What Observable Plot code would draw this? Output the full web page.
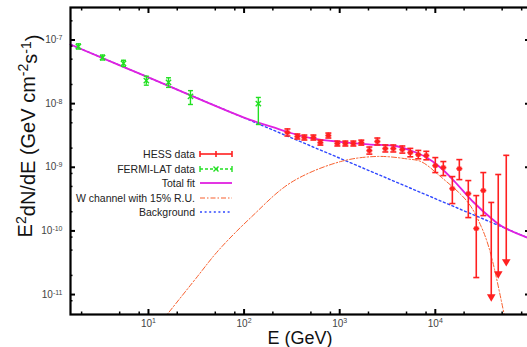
<!DOCTYPE html>
<html><head><meta charset="utf-8">
<script src="https://cdn.jsdelivr.net/npm/d3@7"></script>
<script src="https://cdn.jsdelivr.net/npm/@observablehq/plot@0.6"></script>
<style>
html,body{margin:0;padding:0;background:#fff;}
#chart svg{display:block;font-family:"Liberation Sans",Arial,Helvetica,sans-serif;}
</style></head><body><div id="chart"></div>
<script>
// ---- HESS data (E in GeV, E^2 dN/dE in GeV cm^-2 s^-1)
const hessE  = [284,361,427,531,628,761,945,1146,1389,1683,2042,2476,3000,3637,4518,5474,6637,8051,10000,12130,15070,17830,22130,26810,31750];
const hessF  = [3.52e-9,3.04e-9,2.93e-9,2.93e-9,2.44e-9,3.15e-9,2.36e-9,2.36e-9,2.36e-9,2.44e-9,1.83e-9,2.54e-9,1.97e-9,1.97e-9,1.90e-9,1.70e-9,1.58e-9,1.53e-9,1.06e-9,9.9e-10,4.62e-10,9.5e-10,3.86e-10,1.09e-10,4.31e-10];
const hessLo = [3.10e-9,2.78e-9,2.68e-9,2.68e-9,2.23e-9,2.88e-9,2.16e-9,2.16e-9,2.16e-9,2.23e-9,1.61e-9,2.24e-9,1.74e-9,1.74e-9,1.67e-9,1.46e-9,1.36e-9,1.31e-9,8.26e-10,7.4e-10,2.69e-10,6.4e-10,1.62e-10,1.85e-11,1.74e-10];
const hessHi = [4.00e-9,3.33e-9,3.21e-9,3.21e-9,2.67e-9,3.45e-9,2.58e-9,2.58e-9,2.58e-9,2.67e-9,2.08e-9,2.88e-9,2.24e-9,2.24e-9,2.16e-9,1.98e-9,1.84e-9,1.78e-9,1.42e-9,1.23e-9,7.14e-10,1.32e-9,6.18e-10,3.59e-10,8.26e-10];
// HESS upper limits
const ulE   = [38460,45500,55200];
const ulF   = [2.80e-10,7.7e-10,1.54e-9];
const ulTip = [8.6e-12,1.98e-11,3.06e-11];
// ---- FERMI-LAT data
const fermiE  = [1.85,3.31,5.48,9.5,16.2,27.5,141];
const fermiF  = [7.9e-8,5.3e-8,4.3e-8,2.3e-8,2.15e-8,1.3e-8,1.0e-8];
const fermiLo = [7.2e-8,4.85e-8,3.85e-8,1.95e-8,1.8e-8,9.7e-9,4.7e-9];
const fermiHi = [8.7e-8,5.8e-8,4.8e-8,2.7e-8,2.55e-8,1.6e-8,1.25e-8];
// ---- Curves
const bgE = [1.53,10,100,1000,10000,96600];
const bgF = [8.5e-8,2.58e-8,5.98e-9,1.39e-9,3.21e-10,7.6e-11];
const totE = [1.53,10,100,200,288,501,1000,1995,3981,5623,7943,11220,15850,25120,39810,50120,96600];
const totF = [8.5e-8,2.58e-8,6.03e-9,4.27e-9,3.55e-9,2.88e-9,2.51e-9,2.29e-9,2.14e-9,1.82e-9,1.45e-9,1.0e-9,6.03e-10,2.82e-10,1.51e-10,1.17e-10,7.62e-11];
const wE = [14.1,31.6,53.7,117.5,309,1023,2512,5129,7079,11220,21880,30200,37150,52480,57540];
const wF = [3.98e-12,1.82e-11,4.9e-11,1.62e-10,5.75e-10,1.23e-9,1.48e-9,1.35e-9,1.23e-9,7.24e-10,2.82e-10,1.17e-10,4.9e-11,4.9e-12,2.5e-12];
// ---- Ticks
const xMajor = [10,100,1000,10000];
const xMinor = [2,5,8,20,50,80,200,500,800,2000,5000,8000,20000,50000,80000];
const yMajor = [1e-11,1e-10,1e-9,1e-8,1e-7];
const yMinor = [8e-12,2e-11,5e-11,8e-11,2e-10,5e-10,8e-10,2e-9,5e-9,8e-9,2e-8,5e-8,8e-8,2e-7];
const legendLabels = ["HESS data","FERMI-LAT data","Total fit","W channel with 15% R.U.","Background"];

const RED="#ff2020", GREEN="#22e022", MAGENTA="#e020e0", ORANGE="#f8602e", BLUE="#3048ff";

const hess = hessE.map((E,i)=>({E, F:hessF[i], lo:hessLo[i], hi:hessHi[i]}));
const ul = ulE.map((E,i)=>({E, F:ulF[i], tip:ulTip[i]}));
const fermi = fermiE.map((E,i)=>({E, F:fermiF[i], lo:fermiLo[i], hi:fermiHi[i]}));
const bg = bgE.map((E,i)=>({E, F:bgF[i]}));
const tot = totE.map((E,i)=>({E, F:totF[i]}));
const wch = wE.map((E,i)=>({E, F:wF[i]}));

const cap = {draw(ctx, size){ const r = Math.sqrt(size/Math.PI); ctx.moveTo(-r,0); ctx.lineTo(r,0); }};
const fmt = d => "10^" + Math.round(Math.log10(d));

const plot = Plot.plot({
  width: 527, height: 347,
  marginLeft: 70, marginRight: -2, marginTop: 7, marginBottom: 33,
  x: {type:"log", domain:[1.53, 96600], label:null},
  y: {type:"log", domain:[4.86e-12, 3.24e-7], label:null},
  style: {fontFamily:'"Liberation Sans",Arial,sans-serif', background:"#fff"},
  marks: [
    Plot.line(bg, {x:"E", y:"F", stroke:BLUE, strokeWidth:1.4, strokeDasharray:"2,2.6"}),
    Plot.line(wch, {x:"E", y:"F", stroke:ORANGE, strokeWidth:1, strokeDasharray:"5,2,1.5,2", curve:"catmull-rom", clip:true}),
    Plot.line(tot, {x:"E", y:"F", stroke:MAGENTA, strokeWidth:1.8, curve:"catmull-rom"}),
    // FERMI
    Plot.ruleX(fermi, {x:"E", y1:"lo", y2:"hi", stroke:GREEN, strokeWidth:1.4}),
    Plot.dot(fermi, {x:"E", y:"lo", symbol:cap, r:2.5, stroke:GREEN, strokeWidth:1.4}),
    Plot.dot(fermi, {x:"E", y:"hi", symbol:cap, r:2.5, stroke:GREEN, strokeWidth:1.4}),
    Plot.dot(fermi, {x:"E", y:"F", symbol:"times", r:2.5, stroke:GREEN, strokeWidth:1.4}),
    // HESS
    Plot.ruleX(hess, {x:"E", y1:"lo", y2:"hi", stroke:RED, strokeWidth:1.6}),
    Plot.dot(hess, {x:"E", y:"lo", symbol:cap, r:3, stroke:RED, strokeWidth:1.6}),
    Plot.dot(hess, {x:"E", y:"hi", symbol:cap, r:3, stroke:RED, strokeWidth:1.6}),
    Plot.dot(hess, {x:"E", y:"F", symbol:cap, r:3, stroke:RED, strokeWidth:1.8}),
    Plot.dot(hess, {x:"E", y:"F", symbol:"square", r:2.4, fill:RED}),
    // HESS upper limits
    Plot.ruleX(ul, {x:"E", y1:"tip", y2:"F", stroke:RED, strokeWidth:1.6}),
    Plot.dot(ul, {x:"E", y:"F", symbol:cap, r:3, stroke:RED, strokeWidth:1.6}),
    Plot.dot(ul, {x:"E", y:"tip", symbol:"triangle", rotate:180, r:3.2, fill:RED, dy:-2}),
    // ticks (inside, mirrored)
    Plot.axisX(xMajor, {anchor:"bottom", tickSize:-5, strokeWidth:2, stroke:"#000", fill:"none"}),
    Plot.axisX(xMajor, {anchor:"top", tickSize:-5, strokeWidth:2, stroke:"#000", fill:"none"}),
    Plot.axisX(xMinor, {anchor:"bottom", tickSize:-2.5, strokeWidth:1.5, stroke:"#000", fill:"none"}),
    Plot.axisX(xMinor, {anchor:"top", tickSize:-2.5, strokeWidth:1.5, stroke:"#000", fill:"none"}),
    Plot.axisY(yMajor, {anchor:"left", tickSize:-5, strokeWidth:2, stroke:"#000", fill:"none"}),
    Plot.axisY(yMajor, {anchor:"right", tickSize:-5, strokeWidth:2, stroke:"#000", fill:"none"}),
    Plot.axisY(yMinor, {anchor:"left", tickSize:-2.5, strokeWidth:1.5, stroke:"#000", fill:"none"}),
    Plot.axisY(yMinor, {anchor:"right", tickSize:-2.5, strokeWidth:1.5, stroke:"#000", fill:"none"}),
    // tick labels
    Plot.axisX(xMajor, {anchor:"bottom", tickSize:0, tickPadding:5, tickFormat:fmt, fontSize:10, fill:"#444"}),
    Plot.axisY(yMajor, {anchor:"left", tickSize:0, tickPadding:8, tickFormat:fmt, fontSize:10, fill:"#444"}),
    Plot.frame({stroke:"#000", strokeWidth:2.2})
  ]
});

const svg = d3.select(plot);
svg.selectAll('g[aria-label="x-axis tick label"] text, g[aria-label="y-axis tick label"] text').each(function(){
  const t = d3.select(this); const s = t.text();
  if (!s.startsWith("10^")) return;
  t.text("");
  t.append("tspan").text("10");
  t.append("tspan").attr("dy","-0.45em").attr("font-size","7px").text(s.slice(3));
});

// axis titles
const yl = svg.append("text").attr("transform","translate(32,136) rotate(-90)")
  .attr("text-anchor","middle").attr("font-size",20).attr("fill","#111");
yl.append("tspan").text("E");
yl.append("tspan").attr("dy","-0.45em").attr("font-size","14px").text("2");
yl.append("tspan").attr("dy","0.45em").text("dN/dE (GeV cm");
yl.append("tspan").attr("dy","-0.45em").attr("font-size","14px").text("-2");
yl.append("tspan").attr("dy","0.45em").text("s");
yl.append("tspan").attr("dy","-0.45em").attr("font-size","14px").text("-1");
yl.append("tspan").attr("dy","0.45em").text(")");
svg.append("text").attr("x",300).attr("y",344).attr("text-anchor","middle")
  .attr("font-size",18).attr("fill","#111").text("E (GeV)");

// legend
const lg = svg.append("g");
const ly = [154,169,183,198,212];
legendLabels.forEach((s,i)=>{
  lg.append("text").attr("x",195).attr("y",ly[i]+3.6).attr("text-anchor","end")
    .attr("font-size",10.5).attr("fill","#222").text(s);
});
const L0=200, L1=232, Lm=216;
// HESS sample
lg.append("line").attr("x1",L0).attr("x2",L1).attr("y1",ly[0]).attr("y2",ly[0]).attr("stroke",RED).attr("stroke-width",1.6);
[L0,Lm,L1].forEach(x=>lg.append("line").attr("x1",x).attr("x2",x).attr("y1",ly[0]-3).attr("y2",ly[0]+3).attr("stroke",RED).attr("stroke-width",1.6));
// FERMI sample
lg.append("line").attr("x1",L0).attr("x2",L1).attr("y1",ly[1]).attr("y2",ly[1]).attr("stroke",GREEN).attr("stroke-width",1.4).attr("stroke-dasharray","3,2");
[L0,L1].forEach(x=>lg.append("line").attr("x1",x).attr("x2",x).attr("y1",ly[1]-3).attr("y2",ly[1]+3).attr("stroke",GREEN).attr("stroke-width",1.4));
lg.append("path").attr("d",`M${Lm-2.5},${ly[1]-2.5}L${Lm+2.5},${ly[1]+2.5}M${Lm-2.5},${ly[1]+2.5}L${Lm+2.5},${ly[1]-2.5}`).attr("stroke",GREEN).attr("stroke-width",1.4);
// Total fit
lg.append("line").attr("x1",L0).attr("x2",L1).attr("y1",ly[2]).attr("y2",ly[2]).attr("stroke",MAGENTA).attr("stroke-width",1.8);
// W channel
lg.append("line").attr("x1",L0).attr("x2",L1).attr("y1",ly[3]).attr("y2",ly[3]).attr("stroke",ORANGE).attr("stroke-width",1.2).attr("stroke-dasharray","5,2,1.5,2");
// Background
lg.append("line").attr("x1",L0).attr("x2",L1).attr("y1",ly[4]).attr("y2",ly[4]).attr("stroke",BLUE).attr("stroke-width",1.4).attr("stroke-dasharray","2,2.6");

document.getElementById("chart").appendChild(plot);
</script></body></html>
